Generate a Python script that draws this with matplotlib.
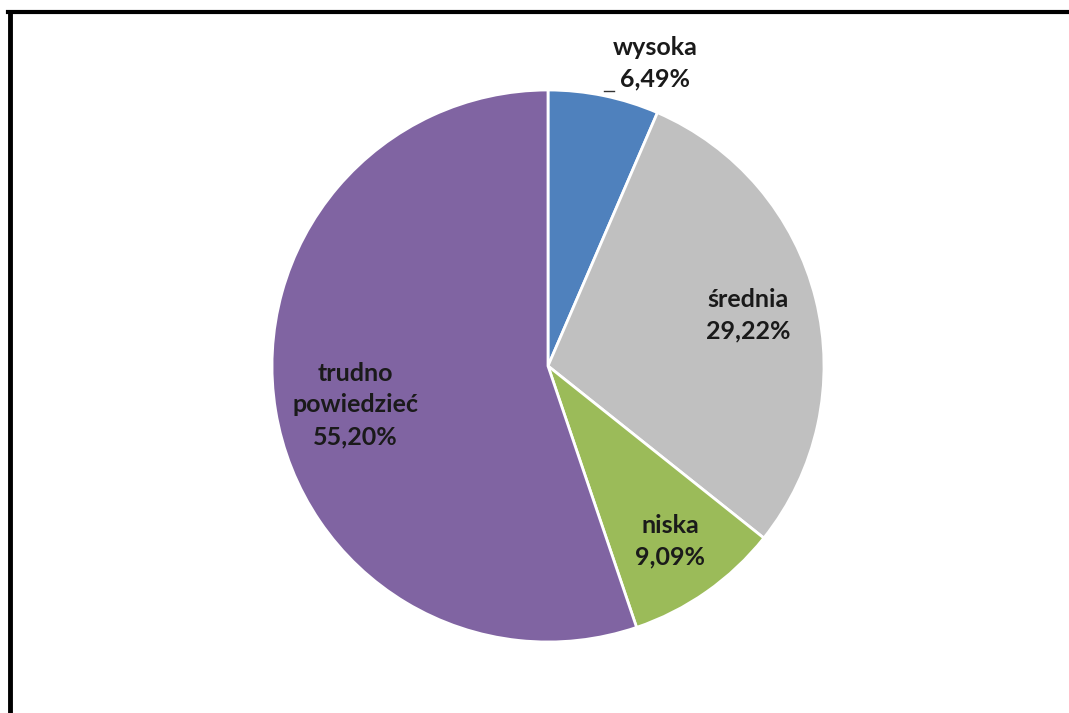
import matplotlib.pyplot as plt

# dane
labels = ['wysoka', 'średnia', 'niska', 'trudno\npowiedzieć']
values = [6.49, 29.22, 9.09, 55.20]
colors = ['#4F81BD', '#C0C0C0', '#9BBB59', '#8064A2']

# pozycje etykiet (piksele, y od dołu)
label_pos = [(655, 650), (748, 398), (670, 172), (355, 308)]

W, H = 1069, 713
fig = plt.figure(figsize=(W / 100, H / 100), dpi=100)
ax = fig.add_axes([0, 0, 1, 1])

cx, cy, r = 548, 347, 276
ax.pie(values, colors=colors, startangle=90, counterclock=False,
       center=(cx, cy), radius=r, frame=True,
       wedgeprops=dict(edgecolor='white', linewidth=2))
ax.set_xlim(0, W)
ax.set_ylim(0, H)
ax.set_aspect('equal')
ax.axis('off')

for lab, v, (x, y) in zip(labels, values, label_pos):
    txt = lab + '\n' + ('%.2f%%' % v).replace('.', ',')
    ax.text(x, y, txt, ha='center', va='center', fontsize=18,
            fontweight='bold', family=['Lato', 'DejaVu Sans'],
            color='#1a1a1a', linespacing=1.45)

# linia odniesienia dla "wysoka"
ax.plot([604, 614], [622, 622], color='#333333', lw=1)

# ramka
fig.add_artist(plt.Line2D([8, W], [H - 12, H - 12], transform=None,
                          color='black', lw=3))
fig.add_artist(plt.Line2D([10, 10], [0, H - 12], transform=None,
                          color='black', lw=3.5))

fig.savefig('out.png', dpi=100)
